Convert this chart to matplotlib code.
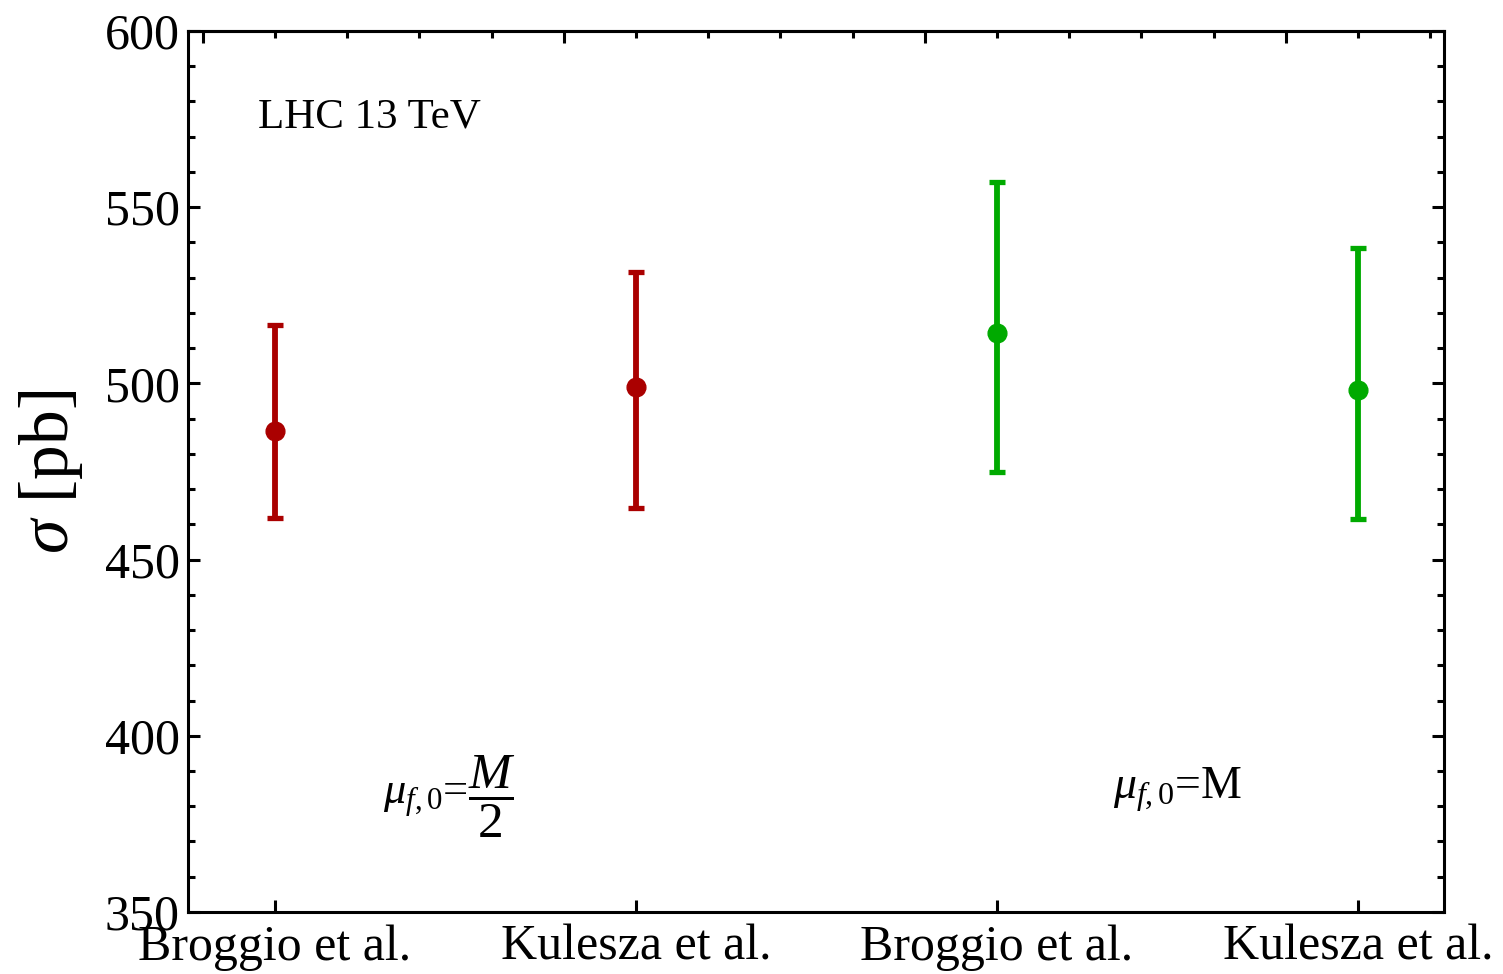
import matplotlib
matplotlib.use("Agg")
import matplotlib.pyplot as plt
import numpy as np
from matplotlib.ticker import MultipleLocator, FixedLocator

plt.rcParams["font.family"] = ["Liberation Serif", "DejaVu Serif"]
plt.rcParams["mathtext.fontset"] = "custom"
plt.rcParams["mathtext.rm"] = "Liberation Serif"
plt.rcParams["mathtext.it"] = "Liberation Serif:italic"

# data
labels = ["Broggio et al.", "Kulesza et al.", "Broggio et al.", "Kulesza et al."]
xpos = [1, 2, 3, 4]
sigma = [486.5, 499.0, 514.3, 498.1]
sigma_hi = [516.6, 531.6, 557.2, 538.4]
sigma_lo = [461.8, 464.6, 474.9, 461.5]
colors = ["#aa0000", "#aa0000", "#00aa00", "#00aa00"]

fig = plt.figure(figsize=(15.03, 9.74), dpi=100)
ax = fig.add_axes([0.1251, 0.0637, 0.8356, 0.9045])

for x, s, hi, lo, c in zip(xpos, sigma, sigma_hi, sigma_lo, colors):
    ax.errorbar([x], [s], yerr=[[s - lo], [hi - s]], fmt="o", color=c,
                ms=13.5, elinewidth=4.2, capsize=5.5, capthick=3.8)

ax.set_xlim(0.759, 4.238)
ax.set_ylim(350, 600)

ax.set_xticks(xpos)
ax.set_xticklabels(labels, fontsize=36)
ax.yaxis.set_major_locator(MultipleLocator(50))
ax.yaxis.set_minor_locator(MultipleLocator(10))
ax.tick_params(axis="y", labelsize=36)

ax.tick_params(which="both", direction="in", width=2.2)
ax.tick_params(which="major", length=8.5)
ax.tick_params(which="minor", length=5)
ax.tick_params(axis="y", which="both", right=True, pad=6)
ax.tick_params(axis="x", which="major", pad=9)

# top frame ticks
top = ax.secondary_xaxis("top")
top.xaxis.set_major_locator(FixedLocator([0.8, 1.8, 2.8, 3.8]))
top.xaxis.set_minor_locator(FixedLocator(np.arange(0.8, 4.3, 0.2)))
top.tick_params(which="both", direction="in", width=2.2, labeltop=False)
top.tick_params(which="major", length=8.5)
top.tick_params(which="minor", length=5)
top.spines["top"].set_linewidth(2.2)

for sp in ax.spines.values():
    sp.set_linewidth(2.2)

ax.set_ylabel(r"$\sigma$ [pb]", fontsize=50, labelpad=14)

ax.text(0.953, 575.6, "LHC 13 TeV", fontsize=31, va="center", ha="left")
mu1 = ax.text(1.30, 382.0, r"$\mu_{f,0}$=", fontsize=32, va="center", ha="left")
ax.annotate(r"$\dfrac{M}{2}$", xy=(1.0, 0.55), xycoords=mu1, fontsize=37,
            va="center", ha="left")
ax.text(3.32, 384.6, r"$\mu_{f,0}$=M", fontsize=33, va="center", ha="left")

fig.savefig("out.png", dpi=100)
